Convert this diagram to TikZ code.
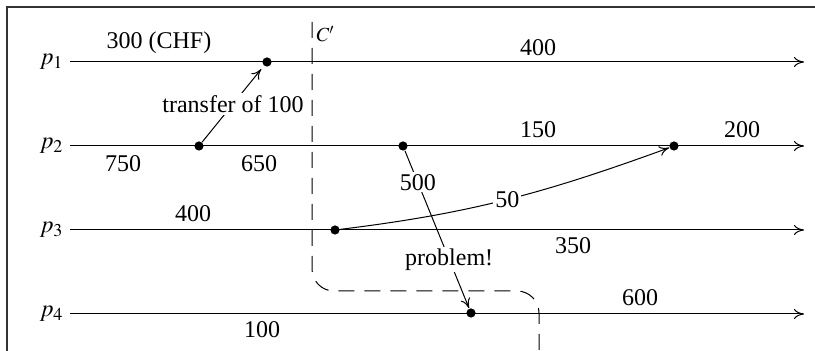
\documentclass[tikz,border=0pt]{standalone}
\usepackage{mathptmx}
\usepackage{fontspec}
\setmainfont{Liberation Serif}
\usetikzlibrary{arrows.meta}

\begin{document}
\begin{tikzpicture}[
  x=0.5pt, y=-0.5pt,
  font=\fontsize{12}{14}\selectfont,
  line width=0.5pt,
  >={To[length=5pt,width=5pt]},
  ev/.style={circle, fill, inner sep=0pt, minimum size=4.6pt},
  proc/.style={anchor=east, inner sep=3pt},
  amt/.style={inner sep=1pt},
  onarrow/.style={fill=white, inner sep=1pt},
  cut/.style={dash pattern=on 8pt off 5pt, rounded corners=11pt},
]
\useasboundingbox (0,0) rectangle (815,351);
\draw[line width=0.8pt, black!80] (7,360) -- (7,7) -- (820,7);

\foreach \i/\y in {1/62, 2/146, 3/230, 4/314} {
  \coordinate (s\i) at (70,\y);
  \coordinate (e\i) at (804,\y);
  \draw[->] (s\i) -- (e\i);
  \node[proc] (p\i) at (s\i) {$p_\i$};
}

\node[ev] (a1) at (267,62) {};
\node[ev] (b1) at (199,146) {};
\node[ev] (b2) at (403,146) {};
\node[ev] (b3) at (674,146) {};
\node[ev] (c1) at (335,230) {};
\node[ev] (d1) at (471,313) {};

\node[amt] (v11) at (159,43) {300 (CHF)};
\node[amt] (v12) at (538,48) {400};
\node[amt] (v21) at (123,164) {750};
\node[amt] (v22) at (259,164) {650};
\node[amt] (v23) at (538,130) {150};
\node[amt] (v24) at (742,130) {200};
\node[amt] (v31) at (193,214) {400};
\node[amt] (v32) at (573,246) {350};
\node[amt] (v41) at (262,330) {100};
\node[amt] (v42) at (640,298) {600};

\draw[->, shorten >=2pt] (b1) -- (a1)
  node[onarrow, midway] (tr) {transfer of 100};
\draw[->] (b2) -- (d1)
  node[onarrow, pos=0.2] (lost) {500}
  node[onarrow, pos=0.69] (pb) {problem!};
\draw[->] (c1) to[out=7, in=200]
  node[onarrow, midway] (m50) {50} (b3);

\coordinate (cuttop) at (312,22);
\coordinate (cutbot) at (539,351);
\draw[cut] (cuttop) -- (312,291) -- (539,291) -- (cutbot);
\node[anchor=north west, inner sep=2pt, font=\fontsize{10}{12}\selectfont] (cname) at (cuttop) {$C'$};
\end{tikzpicture}
\end{document}
